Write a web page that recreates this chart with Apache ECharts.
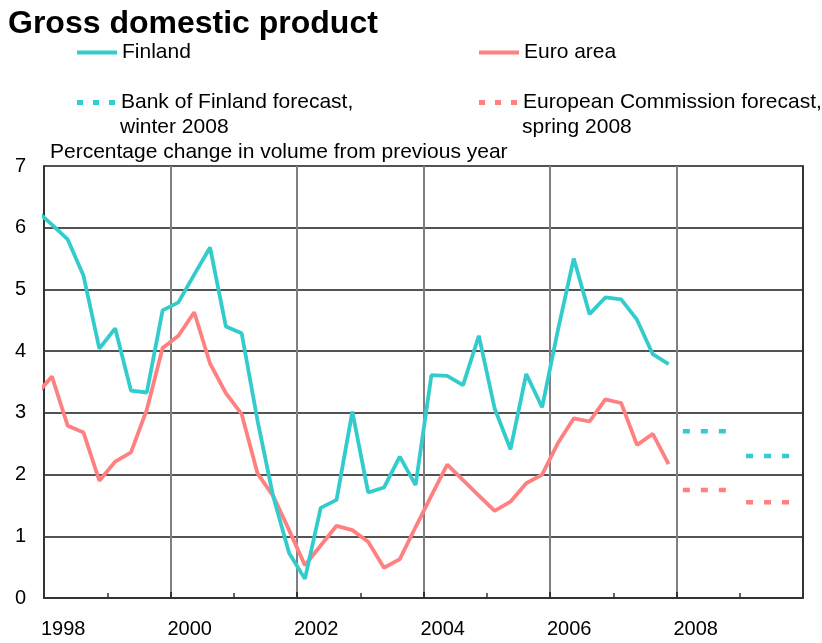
<!DOCTYPE html>
<html>
<head>
<meta charset="utf-8">
<script src="https://cdn.jsdelivr.net/npm/echarts@6/dist/echarts.min.js"></script>
<style>
  html, body { margin: 0; padding: 0; background: #fff; }
  #chart { width: 822px; height: 643px; }
</style>
</head>
<body>
<div id="chart"></div>
<script>
// ---- Data (quarterly, % change in volume from previous year) ----
// First value is 1997 Q4, last is 2007 Q4
const startYear = 1997;
const startQuarter = 4;
const finland = [
  6.28,
  6.05, 5.81, 5.22, 4.04,
  4.37, 3.36, 3.33, 4.66,
  4.79, 5.24, 5.68, 4.40,
  4.29, 2.88, 1.64, 0.73,
  0.31, 1.46, 1.59, 3.02,
  1.71, 1.79, 2.29, 1.83,
  3.61, 3.60, 3.45, 4.25,
  3.07, 2.41, 3.63, 3.09,
  4.34, 5.50, 4.60, 4.87,
  4.84, 4.51, 3.95, 3.79
];
const euroArea = [
  3.29,
  3.59, 2.79, 2.68, 1.90,
  2.21, 2.36, 3.05, 4.05,
  4.25, 4.63, 3.80, 3.32,
  2.98, 2.02, 1.65, 1.10,
  0.53, 0.85, 1.17, 1.10,
  0.91, 0.49, 0.63, 1.15,
  1.66, 2.16, 1.91, 1.66,
  1.41, 1.56, 1.86, 2.00,
  2.51, 2.91, 2.86, 3.22,
  3.16, 2.48, 2.66, 2.17
];
const forecastYears = [2008, 2009];
const bofForecast = [2.7, 2.3];   // Bank of Finland forecast, winter 2008
const ecForecast = [1.75, 1.55];  // European Commission forecast, spring 2008
const xTickLabels = ['1998', '2000', '2002', '2004', '2006', '2008'];
const yTickLabels = ['0', '1', '2', '3', '4', '5', '6', '7'];

// ---- Build series data ----
function quarterX(i) {
  const q0 = startQuarter - 1 + i;
  const y = startYear + Math.floor(q0 / 4);
  const q = q0 % 4;
  return y + (q + 0.5) / 4;
}
const finData = finland.map((v, i) => [quarterX(i), v]);
const euroData = euroArea.map((v, i) => [quarterX(i), v]);

const TEAL = '#33CCCC';
const PINK = '#FF8080';
const FONT = 'Liberation Sans, Arial, sans-serif';

function forecastSeries(name, vals, color) {
  return forecastYears.map((yr, i) => ({
    name: name,
    type: 'line',
    symbol: 'none',
    silent: true,
    color: color,
    lineStyle: { color: color, width: 4.5, type: [7, 11], cap: 'butt' },
    data: [[yr + 0.1, vals[i]], [yr + 0.8, vals[i]]]
  }));
}

const chart = echarts.init(document.getElementById('chart'), null, { renderer: 'canvas' });

const legendCommon = {
  orient: 'horizontal',
  padding: 0,
  itemWidth: 40,
  itemHeight: 4,
  textStyle: { fontSize: 21, color: '#000', fontFamily: FONT },
  selectedMode: false
};
const dashIcon = 'path://M0,0h6v5h-6zM16,0h6v5h-6zM32,0h6v5h-6z';

const option = {
  animation: false,
  backgroundColor: '#fff',
  title: [
    { text: 'Gross domestic product', left: 3, top: 3,
      textStyle: { fontSize: 32, fontWeight: 'bold', color: '#000', fontFamily: FONT } },
    { text: 'Percentage change in volume from previous year', left: 45, top: 137,
      textStyle: { fontSize: 21, fontWeight: 'normal', color: '#000', fontFamily: FONT } }
  ],
  legend: [
    Object.assign({}, legendCommon, { left: 77, top: 42, data: [{ name: 'Finland', icon: 'rect' }] }),
    Object.assign({}, legendCommon, { left: 479, top: 42, data: [{ name: 'Euro area', icon: 'rect' }] }),
    Object.assign({}, legendCommon, { left: 77, top: 92, itemHeight: 5,
      data: [{ name: 'Bank of Finland forecast,', icon: dashIcon }] }),
    Object.assign({}, legendCommon, { left: 479, top: 92, itemHeight: 5,
      data: [{ name: 'European Commission forecast,', icon: dashIcon }] })
  ],
  graphic: [
    { type: 'text', left: 120, top: 117, style: { text: 'winter 2008', fontSize: 21, fill: '#000', fontFamily: FONT } },
    { type: 'text', left: 522, top: 117, style: { text: 'spring 2008', fontSize: 21, fill: '#000', fontFamily: FONT } }
  ],
  grid: { left: 44, right: 19, top: 166, bottom: 45, containLabel: false },
  xAxis: {
    type: 'value',
    min: 1998, max: 2010, interval: 2,
    axisLine: { show: true, lineStyle: { color: '#333', width: 2 } },
    axisTick: { show: true, inside: true, length: 6, lineStyle: { color: '#333', width: 2 } },
    minorTick: { show: true, splitNumber: 2, length: 5, lineStyle: { color: '#333', width: 1.5 } },
    splitLine: { show: true, lineStyle: { color: '#808080', width: 2 } },
    axisLabel: {
      fontSize: 20, color: '#000', fontFamily: FONT, margin: 21, align: 'left',
      padding: [0, 0, 0, -3],
      formatter: function (v) { const s = String(Math.round(v)); return xTickLabels.indexOf(s) >= 0 ? s : ''; }
    }
  },
  yAxis: [
    {
      type: 'value', min: 0, max: 7, interval: 1,
      axisLine: { show: true, lineStyle: { color: '#333', width: 2 } },
      axisTick: { show: false },
      splitLine: { show: true, lineStyle: { color: '#1a1a1a', width: 1.5 } },
      axisLabel: {
        fontSize: 20, color: '#000', fontFamily: FONT, margin: 18,
        formatter: function (v) { return yTickLabels[Math.round(v)]; }
      }
    },
    {
      type: 'value', min: 0, max: 7, interval: 1, position: 'right',
      axisLine: { show: true, lineStyle: { color: '#333', width: 2 } },
      axisTick: { show: false }, splitLine: { show: false }, axisLabel: { show: false }
    }
  ],
  series: [
    { name: 'Finland', type: 'line', symbol: 'none', color: TEAL, clip: true,
      lineStyle: { color: TEAL, width: 3.8 }, data: finData, z: 3 },
    { name: 'Euro area', type: 'line', symbol: 'none', color: PINK, clip: true,
      lineStyle: { color: PINK, width: 3.8 }, data: euroData, z: 2 }
  ]
    .concat(forecastSeries('Bank of Finland forecast,', bofForecast, TEAL))
    .concat(forecastSeries('European Commission forecast,', ecForecast, PINK))
};

chart.setOption(option);
</script>
</body>
</html>
